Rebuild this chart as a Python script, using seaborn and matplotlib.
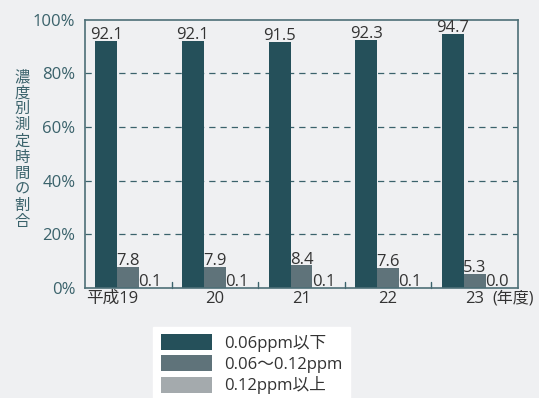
import matplotlib
matplotlib.use("Agg")
import matplotlib.pyplot as plt
import seaborn as sns
import pandas as pd
from matplotlib.patches import Patch

years = ["19", "20", "21", "22", "23"]
series = ["0.06ppm以下", "0.06～0.12ppm", "0.12ppm以上"]
low = [92.1, 92.1, 91.5, 92.3, 94.7]
mid = [7.8, 7.9, 8.4, 7.6, 5.3]
high = [0.1, 0.1, 0.1, 0.1, 0.0]
yticks = [0, 20, 40, 60, 80, 100]
ylabel = "濃度別測定時間の割合"

colors = ["#25505a", "#5f737a", "#a4aaad"]
bg = "#eff0f2"
teal = "#3a626b"
fam = ['Open Sans', 'Noto Sans CJK JP', 'DejaVu Sans']

rows = []
for vals, s in zip([low, mid, high], series):
    for y, v in zip(years, vals):
        rows.append({"year": y, "series": s, "value": v})
df = pd.DataFrame(rows)

sns.set_theme(style="white")
plt.rcParams['font.family'] = fam

fig = plt.figure(figsize=(5.39, 3.98), dpi=100, facecolor=bg)
ax = fig.add_axes([85/539, 1-288/398, (518-85)/539, (288-19.5)/398])
ax.set_facecolor(bg)

sns.barplot(data=df, x="year", y="value", hue="series", palette=colors,
            order=years, hue_order=series, width=0.76, ax=ax, legend=False,
            saturation=1, linewidth=0)

for cont in ax.containers:
    ax.bar_label(cont, fmt="%.1f", fontsize=12, color="#333333", padding=-1.5)

ax.set_ylim(0, 100)
ax.set_xlim(-0.5, 4.5)
ax.set_yticks(yticks)
ax.set_yticklabels([f"{t}%" for t in yticks], color=teal, fontsize=12)
for t in [20, 40, 60, 80]:
    ax.axhline(t, color=teal, lw=0.9, ls=(0, (5, 4)), zorder=0)
ax.set_xlabel("")
ax.set_ylabel("")
ax.set_xticks(range(len(years)))
ax.set_xticklabels([""] + years[1:], fontsize=12, color="#333333")
ax.tick_params(axis="x", length=0, pad=2)
ax.tick_params(axis="y", length=0, pad=7)
for b in [0.5, 1.5, 2.5, 3.5]:
    ax.plot([b, b], [0, 2.2], color=teal, lw=1, clip_on=False)
for sp in ax.spines.values():
    sp.set_color("#4d6f77")
    sp.set_linewidth(1.2)

ax.text(0.12, -0.9, "平成" + years[0], transform=ax.transData, ha="right", va="top",
        fontsize=12, color="#333333")
ax.text(4.68, -0.9, "(年度)", transform=ax.transData, ha="right", va="top",
        fontsize=11.5, color="#333333")

fig.text(22/539, 1-149/398, "\n".join(ylabel), ha="center", va="center",
         fontsize=11, color=teal, linespacing=0.93,
         family=['Noto Sans CJK JP'])

handles = [Patch(facecolor=c, edgecolor="none") for c in colors]
leg = fig.legend(handles, series, loc="lower left",
                 bbox_to_anchor=(153/539, -0.01), fontsize=12,
                 frameon=True, fancybox=False, framealpha=1,
                 edgecolor="white", facecolor="white",
                 handlelength=3.1, handleheight=1.1, labelspacing=0.2,
                 borderpad=0.45, borderaxespad=0, handletextpad=0.7)
for t in leg.get_texts():
    t.set_color("#333333")

fig.savefig("out.png", dpi=100, facecolor=bg)
